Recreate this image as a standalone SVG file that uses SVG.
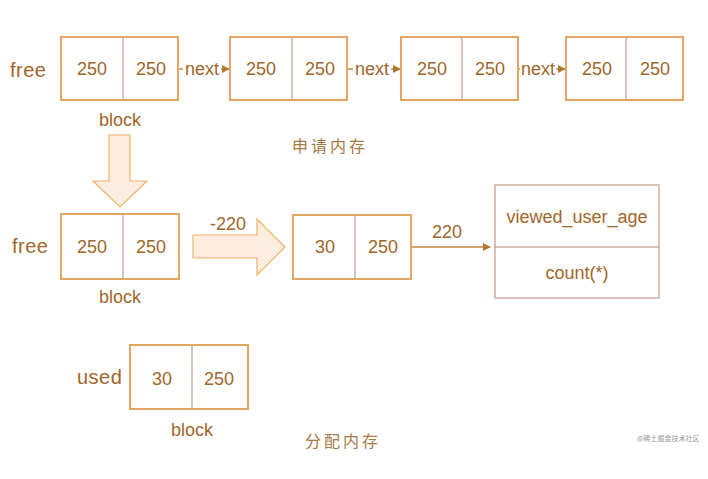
<svg xmlns="http://www.w3.org/2000/svg" width="708" height="479" viewBox="0 0 708 479">
<defs>
<style>
.t{font-family:"Liberation Sans","DejaVu Sans",sans-serif;font-size:18px;fill:#A0662A;text-anchor:middle;dominant-baseline:central}
.lb{font-family:"Liberation Sans","DejaVu Sans",sans-serif;font-size:20px;fill:#A0662A;dominant-baseline:central;letter-spacing:0.5px}
.cn{font-family:"Noto Sans CJK SC",sans-serif;font-size:16px;fill:#A57A45;letter-spacing:3px;dominant-baseline:central}
.box{fill:#fff;stroke:#E2A662;stroke-width:2}
.div{stroke:#B08878;stroke-width:1}
.rbox{fill:#fff;stroke:#C49A8A;stroke-width:1.2}
.blk{fill:#FCEDE0;stroke:#F0B468;stroke-width:1.2}
.con{stroke:#C08A3A;stroke-width:1.3;fill:none}
.wm{font-family:"Noto Sans CJK SC",sans-serif;font-size:7px;fill:#999}
</style>
<marker id="ah" markerWidth="8" markerHeight="8" refX="7" refY="4" orient="auto" markerUnits="userSpaceOnUse">
<path d="M0,0 L8,4 L0,8 Z" fill="#B07A30"/>
</marker>
</defs>
<rect width="708" height="479" fill="#fff"/>

<g id="connectors">
<line class="con" x1="179" y1="69" x2="229" y2="69" marker-end="url(#ah)"/>
<line class="con" x1="348" y1="69" x2="400" y2="69" marker-end="url(#ah)"/>
<line class="con" x1="518" y1="69" x2="565" y2="69" marker-end="url(#ah)"/>
<rect x="183" y="60" width="38" height="18" fill="#fff"/>
<rect x="353" y="60" width="38" height="18" fill="#fff"/>
<rect x="520" y="60" width="36" height="18" fill="#fff"/>
<text class="t" x="202" y="69">next</text>
<text class="t" x="372" y="69">next</text>
<text class="t" x="538" y="69">next</text>
<line class="con" x1="412" y1="247" x2="490" y2="247" marker-end="url(#ah)"/>
<text class="t" x="447" y="232">220</text>
</g>

<g id="free-label"><text class="lb" x="10" y="70">free</text></g>

<g id="block1">
<rect class="box" x="61" y="37" width="117" height="63"/>
<line class="div" x1="123" y1="38" x2="123" y2="99"/>
<text class="t" x="92" y="69">250</text>
<text class="t" x="151" y="69">250</text>
<text class="t" x="120" y="120">block</text>
</g>
<g id="block2">
<rect class="box" x="230" y="37" width="117" height="63"/>
<line class="div" x1="292" y1="38" x2="292" y2="99"/>
<text class="t" x="261" y="69">250</text>
<text class="t" x="320" y="69">250</text>
</g>
<g id="block3">
<rect class="box" x="401" y="37" width="117" height="63"/>
<line class="div" x1="462" y1="38" x2="462" y2="99"/>
<text class="t" x="432" y="69">250</text>
<text class="t" x="490" y="69">250</text>
</g>
<g id="block4">
<rect class="box" x="566" y="37" width="117" height="63"/>
<line class="div" x1="626" y1="38" x2="626" y2="99"/>
<text class="t" x="597" y="69">250</text>
<text class="t" x="655" y="69">250</text>
</g>

<g id="title1"><text class="cn" x="292" y="145">申请内存</text></g>

<g id="down-arrow">
<path class="blk" d="M109,135 L130,135 L130,181 L147,181 L120,207 L93,181 L109,181 Z"/>
</g>

<g id="free2">
<text class="lb" x="12" y="246">free</text>
<rect class="box" x="61" y="214" width="118" height="65"/>
<line class="div" x1="123" y1="215" x2="123" y2="278"/>
<text class="t" x="92" y="247">250</text>
<text class="t" x="151" y="247">250</text>
<text class="t" x="120" y="297">block</text>
</g>

<g id="right-arrow">
<path class="blk" d="M193,235 L257,235 L257,219 L285,247 L257,275 L257,258 L193,258 Z"/>
<text class="t" x="228" y="224">-220</text>
</g>

<g id="split">
<rect class="box" x="293" y="215" width="118" height="64"/>
<line class="div" x1="355" y1="216" x2="355" y2="278"/>
<text class="t" x="325" y="247">30</text>
<text class="t" x="383" y="247">250</text>
</g>

<g id="table">
<rect class="rbox" x="495" y="185" width="164" height="113"/>
<line class="div" x1="495" y1="247" x2="659" y2="247"/>
<text class="t" x="577" y="217">viewed_user_age</text>
<text class="t" x="577" y="273">count(*)</text>
</g>

<g id="used">
<text class="lb" x="77" y="377">used</text>
<rect class="box" x="130" y="345" width="118" height="64"/>
<line class="div" x1="192" y1="346" x2="192" y2="408"/>
<text class="t" x="162" y="379">30</text>
<text class="t" x="219" y="379">250</text>
<text class="t" x="192" y="430">block</text>
</g>

<g id="title2"><text class="cn" x="305" y="440">分配内存</text></g>
<text class="wm" x="637" y="438" dominant-baseline="central">@稀土掘金技术社区</text>
</svg>
